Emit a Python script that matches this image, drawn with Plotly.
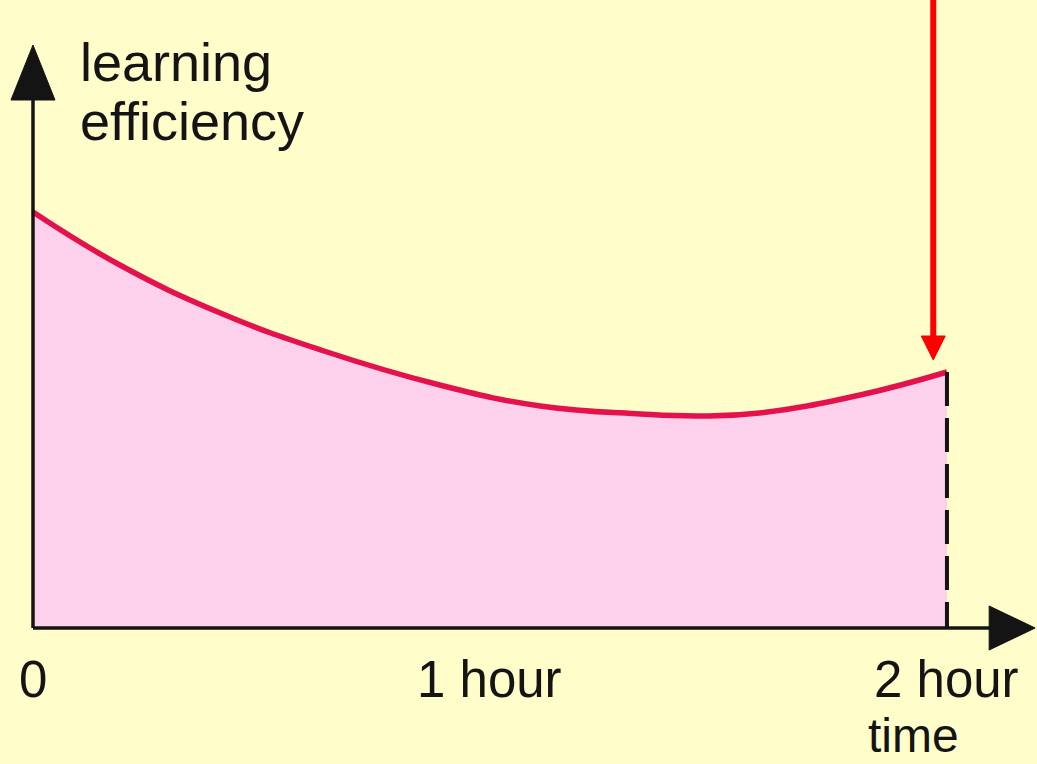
import plotly.graph_objects as go

# ---- data ----
time_hours = [0.0, 0.19, 0.41, 0.63, 0.89, 1.11, 1.33, 1.46, 1.59, 1.81, 2.0]
efficiency = [4.16, 3.63, 3.15, 2.78, 2.43, 2.22, 2.14, 2.12, 2.15, 2.33, 2.56]
tick_vals = [0, 1, 2]
tick_text = ["0", "1 hour", "2 hour"]
x_title = "time"
y_title = ["learning", "efficiency"]

# ---- style ----
BG = "#FFFDC9"
FILL = "#FDD0EC"
CURVE = "#E3124C"
INK = "#141414"
FONT = "Liberation Sans, Arial, sans-serif"
FSIZE = 54
TICK_FSIZE = 51

X_RANGE = [-0.0722, 2.197]
Y_RANGE = [-1.36, 6.28]

fig = go.Figure()

fig.add_trace(go.Scatter(
    x=time_hours, y=efficiency, mode="lines",
    line=dict(color=CURVE, width=5.5, shape="spline", smoothing=1.25),
    fill="tozeroy", fillcolor=FILL, hoverinfo="skip", showlegend=False,
))

shapes = []
# dashed end line
shapes.append(dict(type="line", x0=time_hours[-1], x1=time_hours[-1], y0=efficiency[-1], y1=0,
                   line=dict(color=INK, width=4, dash="34px,12px"), layer="above"))
# y axis
shapes.append(dict(type="line", x0=0, x1=0, y0=0, y1=5.35, line=dict(color=INK, width=3.5), layer="above"))
# x axis
shapes.append(dict(type="line", x0=0, x1=2.1, y0=0, y1=0, line=dict(color=INK, width=3.5), layer="above"))
# y arrowhead (pixel sized)
shapes.append(dict(type="path", xref="x", yref="y", xsizemode="pixel", ysizemode="pixel",
                   xanchor=0, yanchor=5.83, path="M0,0 L-22,-55 L22,-55 Z",
                   fillcolor=INK, line=dict(color=INK, width=1), layer="above"))
# x arrowhead
shapes.append(dict(type="path", xref="x", yref="y", xsizemode="pixel", ysizemode="pixel",
                   xanchor=2.193, yanchor=0, path="M0,0 L-46,22 L-46,-22 Z",
                   fillcolor=INK, line=dict(color=INK, width=1), layer="above"))
# red pointer arrow
ARROW_X = 1.97
ARROW_TIP = 2.68
shapes.append(dict(type="line", x0=ARROW_X, x1=ARROW_X, y0=6.4, y1=ARROW_TIP + 0.2,
                   line=dict(color="#FF0000", width=6), layer="above"))
shapes.append(dict(type="path", xref="x", yref="y", xsizemode="pixel", ysizemode="pixel",
                   xanchor=ARROW_X, yanchor=ARROW_TIP, path="M0,0 L-12,24 L12,24 Z",
                   fillcolor="#FF0000", line=dict(color="#FF0000", width=1), layer="above"))

annotations = []
for v, t in zip(tick_vals, tick_text):
    annotations.append(dict(x=v, y=-0.51, text=t, showarrow=False, xanchor="center", yanchor="middle",
                            font=dict(family=FONT, size=TICK_FSIZE, color=INK)))
annotations.append(dict(x=1.823, y=-1.07, text=x_title, showarrow=False, xanchor="left", yanchor="middle",
                        font=dict(family=FONT, size=TICK_FSIZE - 3, color=INK)))
annotations.append(dict(x=0.098, y=5.66, text=y_title[0], showarrow=False, xanchor="left", yanchor="middle",
                        font=dict(family=FONT, size=FSIZE, color=INK)))
annotations.append(dict(x=0.098, y=5.07, text=y_title[1], showarrow=False, xanchor="left", yanchor="middle",
                        font=dict(family=FONT, size=FSIZE, color=INK)))

fig.update_layout(
    width=1037, height=764, autosize=False,
    margin=dict(l=0, r=0, t=0, b=0, pad=0),
    paper_bgcolor=BG, plot_bgcolor=BG,
    xaxis=dict(range=X_RANGE, visible=False, fixedrange=True),
    yaxis=dict(range=Y_RANGE, visible=False, fixedrange=True),
    shapes=shapes, annotations=annotations, showlegend=False,
)

fig.write_html("out.html", config={"displayModeBar": False},
               post_script="document.body.style.margin='0';")
